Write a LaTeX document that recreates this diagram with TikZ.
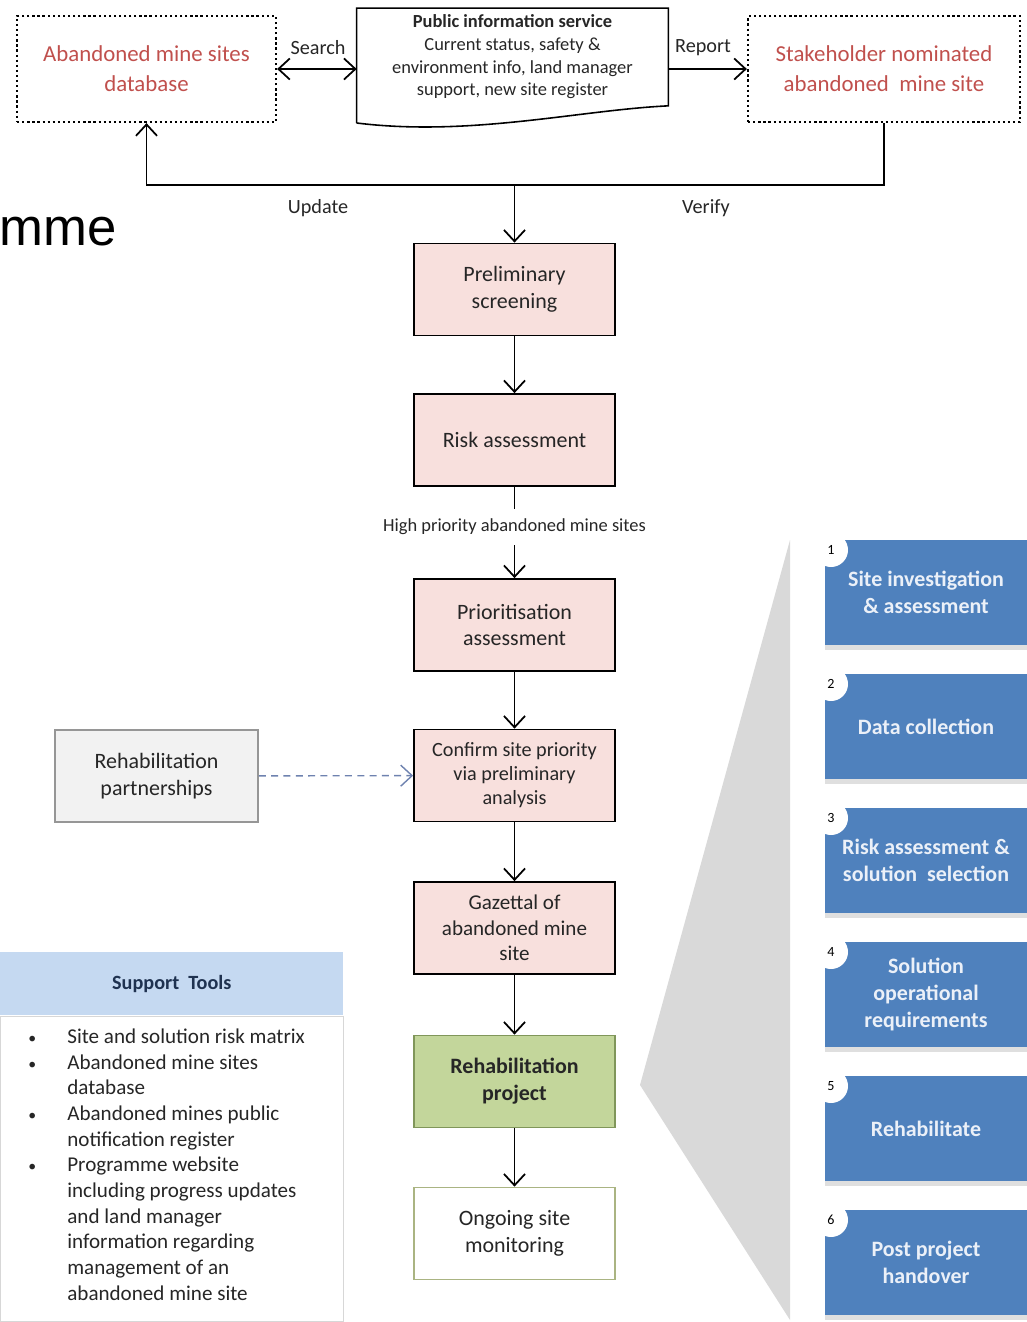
\documentclass[tikz,border=0pt]{standalone}
\usepackage{fontspec}
\setmainfont{Carlito}
\newfontfamily\arialfont{Liberation Sans}
\usetikzlibrary{arrows.meta,shadows}

\definecolor{boxpink}{RGB}{248,224,221}
\definecolor{boxgreen}{RGB}{195,214,155}
\definecolor{greenline}{RGB}{128,150,90}
\definecolor{oliveline}{RGB}{170,180,130}
\definecolor{minered}{RGB}{192,80,77}
\definecolor{partgray}{RGB}{242,242,242}
\definecolor{partline}{RGB}{150,150,150}
\definecolor{dashblue}{RGB}{110,130,175}
\definecolor{toolhead}{RGB}{197,217,241}
\definecolor{toolline}{RGB}{215,215,215}
\definecolor{toolnavy}{RGB}{31,50,80}
\definecolor{wedgegray}{RGB}{217,217,217}
\definecolor{stepblue}{RGB}{79,129,189}
\definecolor{steptext}{RGB}{235,240,248}

\begin{document}
\begin{tikzpicture}[x=0.02cm,y=-0.02cm,
    >={Straight Barb[length=6.5pt,width=12pt]},
    flow/.style={draw, line width=1pt, fill=boxpink, minimum width=4.02cm, minimum height=1.84cm,
        align=center, text=black!85, font=\fontsize{12.5}{15.3}\selectfont},
    source/.style={draw, line width=1.3pt, dash pattern=on 1.3pt off 1.6pt, minimum height=2.12cm,
        align=center, text=minered, font=\fontsize{13}{17}\selectfont},
    flowlabel/.style={text=black!85, font=\fontsize{11.5}{13}\selectfont},
    stepbox/.style={fill=stepblue, minimum width=4.04cm, minimum height=2.1cm, align=center,
        text=steptext, font=\bfseries\fontsize{12.5}{15.3}\selectfont,
        drop shadow={opacity=0.25, shadow xshift=0pt, shadow yshift=-1mm}},
    stepnum/.style={circle, fill=white, minimum size=0.68cm, inner sep=0pt, font=\fontsize{8}{9}\selectfont}
]
    \useasboundingbox (0,0) rectangle (1027,1322);

    \node[font=\arialfont\fontsize{30}{36}\selectfont, anchor=base east, inner sep=0pt] (title) at (117,245) {mme};

    % top row
    \node[source, minimum width=5.18cm] (minedb) at (146.5,69) {Abandoned mine sites\\database};
    \node[source, minimum width=5.44cm] (nominated) at (884,69) {Stakeholder nominated\\abandoned\ \ mine site};
    \node[minimum width=6.22cm, minimum height=1.94cm, align=center, text=black!85,
        font=\fontsize{10.5}{12.9}\selectfont] (pis) at (512.5,57)
        {\textbf{Public information service}\\Current status, safety \&\\environment info, land manager\\support, new site register};
    \draw[line width=0.9pt] (pis.south west |- 0,123) -- (pis.north west) -- (pis.north east) -- (pis.south east)
        .. controls (580,110) and (470,137) .. (pis.south west |- 0,123);

    \draw[<->, line width=1pt] (minedb.east) -- (minedb.east -| pis.west);
    \draw[->, line width=1pt] (nominated.west -| pis.east) -- (nominated.west);
    \node[flowlabel] (search) at (318,48) {Search};
    \node[flowlabel] (report) at (703,48) {Report};

    % flow column
    \node[flow] (prelim)  at (514.5,289.5) {Preliminary\\screening};
    \node[flow] (risk)    at (514.5,440)   {Risk assessment};
    \node[flowlabel, font=\fontsize{10.5}{12}\selectfont, minimum height=0.72cm] (hp) at (514.5,527) {High priority abandoned mine sites};
    \node[flow] (prio)    at (514.5,625)   {Prioritisation\\assessment};
    \node[flow, font=\fontsize{11.5}{13.6}\selectfont] (confirm) at (514.5,775.5) {Confirm site priority\\via preliminary\\analysis};
    \node[flow, font=\fontsize{12}{14.4}\selectfont] (gazettal) at (514.5,928) {Gazettal of\\abandoned mine\\site};
    \node[flow, fill=boxgreen, draw=greenline, font=\bfseries\fontsize{12.5}{15.3}\selectfont] (rehab) at (514.5,1081.5) {Rehabilitation\\project};
    \node[flow, fill=white, draw=oliveline] (monitor) at (514.5,1233.5) {Ongoing site\\monitoring};

    \node[flow, fill=partgray, draw=partline, minimum width=4.06cm] (partner) at (156.5,776) {Rehabilitation\\partnerships};

    % feedback loop
    \coordinate (fb) at (514.5,185);
    \draw[->, line width=1pt] (nominated.south) |- (fb) -| (minedb.south);
    \node[flowlabel] (update) at (318,208) {Update};
    \node[flowlabel] (verify) at (706,208) {Verify};

    \begin{scope}[every path/.style={->, line width=1pt}]
       \draw (fb) -- (prelim);
       \draw (prelim) -- (risk);
       \draw (hp) -- (prio);
       \draw (prio) -- (confirm);
       \draw (confirm) -- (gazettal);
       \draw (gazettal) -- (rehab);
       \draw (rehab) -- (monitor);
    \end{scope}
    \draw[line width=1pt] (risk) -- (hp);
    \draw[->, dashblue, line width=0.8pt, dash pattern=on 4pt off 3pt] (partner) -- (confirm);

    % support tools
    \node[fill=toolhead, minimum width=6.86cm, minimum height=1.26cm, anchor=north west, text=toolnavy,
        font=\bfseries\fontsize{11.5}{14}\selectfont] (toolhead) at (0,952) {Support\ \ Tools};
    \node[draw=toolline, minimum width=6.86cm, minimum height=6.1cm, anchor=north] (toolbody) at (toolhead.south) {};
    \node[anchor=north west, inner sep=0pt, text=black!85, font=\fontsize{12}{14.63}\selectfont] (toollist) at (28,1025)
        {\begin{tabular}{@{}p{0.78cm}@{}l@{}}
         {\small\textbullet} & Site and solution risk matrix\\
         {\small\textbullet} & Abandoned mine sites\\
                             & database\\
         {\small\textbullet} & Abandoned mines public\\
                             & notification register\\
         {\small\textbullet} & Programme website\\
                             & including progress updates\\
                             & and land manager\\
                             & information regarding\\
                             & management of an\\
                             & abandoned mine site
         \end{tabular}};

    % rehabilitation steps
    \fill[wedgegray] (640,1085) -- (790,540) -- (790,1320) -- cycle;
    \foreach \n/\txt in {1/{Site investigation\\\& assessment}, 2/{Data collection},
        3/{Risk assessment \&\\solution\ \ selection}, 4/{Solution\\operational\\requirements},
        5/{Rehabilitate}, 6/{Post project\\handover}} {
        \node[stepbox] (step\n) at (926,{458.5+134*\n}) {\txt};
        \node[stepnum] (num\n) at (831,{416+134*\n}) {\n};
    }

\end{tikzpicture}
\end{document}
